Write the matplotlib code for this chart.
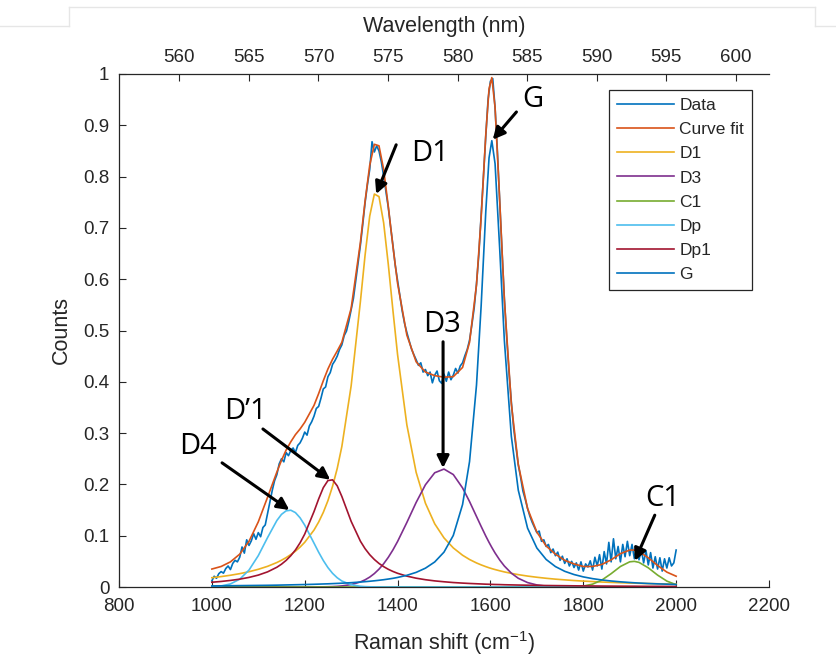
import numpy as np
import matplotlib
matplotlib.use('Agg')
import matplotlib.pyplot as plt
from matplotlib.lines import Line2D

plt.rcParams['font.family'] = ['Liberation Sans', 'DejaVu Sans']
plt.rcParams['mathtext.default'] = 'regular'

# measured spectrum, every 5 cm-1 from 1000 to 2000
data_x = np.arange(1000, 2001, 5)
data_y = [
    0.012, 0.021, 0.017, 0.026, 0.030, 0.027, 0.036, 0.041, 0.034, 0.046,
    0.052, 0.049, 0.058, 0.078, 0.066, 0.092, 0.081, 0.090, 0.104, 0.093,
    0.106, 0.098, 0.116, 0.121, 0.143, 0.165, 0.188, 0.207, 0.219, 0.240,
    0.250, 0.244, 0.262, 0.256, 0.266, 0.271, 0.262, 0.276, 0.281, 0.290,
    0.302, 0.296, 0.314, 0.322, 0.333, 0.348, 0.352, 0.368, 0.386, 0.390,
    0.410, 0.418, 0.434, 0.441, 0.450, 0.463, 0.472, 0.490, 0.499, 0.518,
    0.541, 0.563, 0.597, 0.632, 0.667, 0.707, 0.749, 0.784, 0.814, 0.868,
    0.848, 0.860, 0.850, 0.829, 0.801, 0.770, 0.740, 0.702, 0.666, 0.627,
    0.597, 0.567, 0.538, 0.514, 0.496, 0.480, 0.464, 0.453, 0.443, 0.432,
    0.437, 0.419, 0.424, 0.412, 0.419, 0.398, 0.413, 0.421, 0.402, 0.397,
    0.415, 0.401, 0.419, 0.404, 0.413, 0.426, 0.417, 0.431, 0.437, 0.451,
    0.463, 0.481, 0.511, 0.544, 0.591, 0.648, 0.723, 0.801, 0.879, 0.951,
    0.986, 0.991, 0.934, 0.849, 0.751, 0.654, 0.563, 0.487, 0.419, 0.361,
    0.310, 0.273, 0.238, 0.214, 0.187, 0.171, 0.153, 0.138, 0.126, 0.116,
    0.106, 0.109, 0.089, 0.092, 0.079, 0.083, 0.067, 0.074, 0.061, 0.068,
    0.052, 0.060, 0.046, 0.055, 0.041, 0.050, 0.038, 0.047, 0.033, 0.049,
    0.031, 0.045, 0.039, 0.051, 0.033, 0.058, 0.041, 0.063, 0.035, 0.069,
    0.045, 0.087, 0.049, 0.094, 0.055, 0.079, 0.049, 0.083, 0.059, 0.089,
    0.061, 0.083, 0.055, 0.077, 0.053, 0.073, 0.047, 0.071, 0.043, 0.067,
    0.037, 0.059, 0.035, 0.057, 0.031, 0.055, 0.037, 0.057, 0.041, 0.047,
    0.072,
]

# fitted curve and peak components, read at these shifts
fit_x = [1000, 1020, 1040, 1060, 1080, 1100, 1120, 1140, 1150, 1160,
         1170, 1180, 1190, 1200, 1220, 1230, 1240, 1250, 1260, 1270,
         1280, 1300, 1320, 1330, 1340, 1350, 1360, 1370, 1380, 1390,
         1400, 1420, 1440, 1460, 1480, 1500, 1520, 1540, 1555, 1570,
         1580, 1590, 1597, 1603, 1610, 1620, 1630, 1645, 1660, 1680,
         1700, 1720, 1740, 1760, 1780, 1800, 1820, 1840, 1860, 1880,
         1900, 1910, 1920, 1940, 1960, 1980, 2000]

curve_fit = [0.035, 0.040, 0.049, 0.064, 0.089, 0.127, 0.175, 0.224, 0.247, 0.267,
             0.283, 0.297, 0.308, 0.321, 0.354, 0.377, 0.402, 0.425, 0.444, 0.460,
             0.477, 0.543, 0.672, 0.752, 0.822, 0.863, 0.860, 0.814, 0.742, 0.664,
             0.592, 0.491, 0.439, 0.419, 0.412, 0.409, 0.410, 0.428, 0.477, 0.589,
             0.720, 0.882, 0.971, 0.993, 0.935, 0.753, 0.560, 0.357, 0.239, 0.153,
             0.107, 0.080, 0.064, 0.052, 0.045, 0.040, 0.040, 0.044, 0.053, 0.065,
             0.072, 0.072, 0.069, 0.057, 0.042, 0.029, 0.021]

d1 = [0.0181, 0.0203, 0.0229, 0.0260, 0.0298, 0.0345, 0.0403, 0.0477, 0.0522, 0.0573,
      0.0632, 0.0699, 0.0778, 0.0871, 0.1110, 0.1266, 0.1454, 0.1683, 0.1964, 0.2310,
      0.2740, 0.3920, 0.5570, 0.6468, 0.7230, 0.7660, 0.7610, 0.7099, 0.6290, 0.5391,
      0.4530, 0.3160, 0.2235, 0.1633, 0.1232, 0.0957, 0.0762, 0.0619, 0.0536, 0.0469,
      0.0431, 0.0397, 0.0375, 0.0358, 0.0340, 0.0316, 0.0294, 0.0266, 0.0241, 0.0213,
      0.0190, 0.0170, 0.0153, 0.0139, 0.0126, 0.0115, 0.0106, 0.0097, 0.0090, 0.0083,
      0.0077, 0.0075, 0.0072, 0.0067, 0.0063, 0.0059, 0.0055]

d3 = [0.0, 0.0, 0.0, 0.0, 0.0, 0.0, 0.0, 0.0, 0.0, 0.0,
      0.0, 0.0, 0.0, 0.0, 0.0, 0.0002, 0.0003, 0.0005, 0.0008, 0.0013,
      0.0021, 0.0047, 0.0099, 0.0140, 0.0193, 0.0262, 0.0348, 0.0453, 0.0578, 0.0723,
      0.0887, 0.1258, 0.1648, 0.1993, 0.2227, 0.2299, 0.2192, 0.1931, 0.1666, 0.1375,
      0.1181, 0.0993, 0.0870, 0.0771, 0.0663, 0.0526, 0.0409, 0.0270, 0.0170, 0.0086,
      0.0040, 0.0017, 0.0007, 0.0003, 0.0, 0.0, 0.0, 0.0, 0.0, 0.0,
      0.0, 0.0, 0.0, 0.0, 0.0, 0.0, 0.0]

c1 = [0.0, 0.0, 0.0, 0.0, 0.0, 0.0, 0.0, 0.0, 0.0, 0.0,
      0.0, 0.0, 0.0, 0.0, 0.0, 0.0, 0.0, 0.0, 0.0, 0.0,
      0.0, 0.0, 0.0, 0.0, 0.0, 0.0, 0.0, 0.0, 0.0, 0.0,
      0.0, 0.0, 0.0, 0.0, 0.0, 0.0, 0.0, 0.0, 0.0, 0.0,
      0.0, 0.0, 0.0, 0.0, 0.0, 0.0, 0.0, 0.0, 0.0, 0.0,
      0.0, 0.0, 0.0, 0.0001, 0.0005, 0.0018, 0.0056, 0.0135, 0.0260, 0.0400,
      0.0491, 0.0500, 0.0480, 0.0374, 0.0232, 0.0115, 0.0045]

dp = [0.0006, 0.0020, 0.0060, 0.0152, 0.0330, 0.0611, 0.0964, 0.1296, 0.1416, 0.1485,
      0.1497, 0.1450, 0.1349, 0.1206, 0.0855, 0.0678, 0.0517, 0.0378, 0.0266, 0.0180,
      0.0117, 0.0044, 0.0014, 0.0007, 0.0004, 0.0002, 0.0001, 0.0, 0.0, 0.0,
      0.0, 0.0, 0.0, 0.0, 0.0, 0.0, 0.0, 0.0, 0.0, 0.0,
      0.0, 0.0, 0.0, 0.0, 0.0, 0.0, 0.0, 0.0, 0.0, 0.0,
      0.0, 0.0, 0.0, 0.0, 0.0, 0.0, 0.0, 0.0, 0.0, 0.0,
      0.0, 0.0, 0.0, 0.0, 0.0, 0.0, 0.0]

dp1 = [0.0093, 0.0108, 0.0128, 0.0153, 0.0187, 0.0232, 0.0295, 0.0385, 0.0445, 0.0519,
       0.0610, 0.0722, 0.0861, 0.1031, 0.1470, 0.1716, 0.1936, 0.2075, 0.2089, 0.1972,
       0.1764, 0.1280, 0.0892, 0.0747, 0.0630, 0.0536, 0.0459, 0.0397, 0.0345, 0.0303,
       0.0267, 0.0212, 0.0172, 0.0142, 0.0119, 0.0102, 0.0087, 0.0076, 0.0069, 0.0063,
       0.0059, 0.0055, 0.0053, 0.0051, 0.0049, 0.0047, 0.0044, 0.0041, 0.0038, 0.0035,
       0.0032, 0.0029, 0.0027, 0.0025, 0.0023, 0.0021, 0.0020, 0.0018, 0.0017, 0.0016,
       0.0015, 0.0015, 0.0014, 0.0013, 0.0013, 0.0012, 0.0011]

g_band = [0.0021, 0.0023, 0.0025, 0.0027, 0.0029, 0.0031, 0.0033, 0.0036, 0.0038, 0.0040,
          0.0042, 0.0044, 0.0046, 0.0048, 0.0053, 0.0056, 0.0059, 0.0062, 0.0066, 0.0070,
          0.0074, 0.0084, 0.0097, 0.0104, 0.0112, 0.0121, 0.0131, 0.0142, 0.0155, 0.0169,
          0.0186, 0.0228, 0.0285, 0.0367, 0.0488, 0.0680, 0.1005, 0.1608, 0.2444, 0.3937,
          0.5480, 0.7320, 0.8365, 0.8700, 0.8251, 0.6586, 0.4807, 0.2939, 0.1887, 0.1147,
          0.0760, 0.0537, 0.0398, 0.0306, 0.0243, 0.0197, 0.0163, 0.0137, 0.0117, 0.0101,
          0.0088, 0.0082, 0.0077, 0.0068, 0.0061, 0.0055, 0.0049]

series_names = ['Data', 'Curve fit', 'D1', 'D3', 'C1', 'Dp', 'Dp1', 'G']
series_colors = ['#0072BD', '#D95319', '#EDB120', '#7E2F8E', '#77AC30',
                 '#4DBEEE', '#A2142F', '#0072BD']

y_ticks = [0, 0.1, 0.2, 0.3, 0.4, 0.5, 0.6, 0.7, 0.8, 0.9, 1]
y_labels = ['0', '0.1', '0.2', '0.3', '0.4', '0.5', '0.6', '0.7', '0.8', '0.9', '1']
x_ticks = [800, 1000, 1200, 1400, 1600, 1800, 2000, 2200]
wl_ticks = [560, 565, 570, 575, 580, 585, 590, 595, 600]
wl_limits = (555.66, 602.39)

# peak labels: (text, text position, arrow tail, arrow tip) in data units
peak_notes = [
    ('D1', (1470, 0.845), (1397, 0.862), (1354, 0.766)),
    ('G', (1692, 0.950), (1656, 0.926), (1605, 0.872)),
    ('D3', (1496, 0.512), (1498, 0.478), (1498, 0.232)),
    ('D\u20191', (1073, 0.343), (1110, 0.308), (1255, 0.209)),
    ('D4', (970, 0.273), (1022, 0.242), (1167, 0.150)),
    ('C1', (1972, 0.172), (1954, 0.140), (1911, 0.051)),
]

ink = '#262626'

fig = plt.figure(figsize=(8.37, 6.57), dpi=100)
ax = fig.add_axes([119 / 837, 1 - 587 / 657, 650 / 837, 513 / 657])

ax.plot(data_x, data_y, color=series_colors[0], lw=1.2, label=series_names[0])
comps = [curve_fit, d1, d3, c1, dp, dp1, g_band]
for vals, name, col in zip(comps, series_names[1:], series_colors[1:]):
    ax.plot(fit_x, vals, color=col, lw=1.2, label=name)

ax.set_xlim(800, 2200)
ax.set_ylim(0, 1)
ax.set_xticks(x_ticks)
ax.set_yticks(y_ticks)
ax.set_yticklabels(y_labels)
ax.tick_params(direction='in', length=5, width=0.8, colors=ink, labelsize=13.5)
ax.tick_params(axis='x', pad=8)
ax.tick_params(axis='y', pad=7)
for side in ['top', 'right']:
    ax.spines[side].set_visible(False)
for side in ['left', 'bottom']:
    ax.spines[side].set_color(ink)
    ax.spines[side].set_linewidth(0.9)

ax.set_xlabel('Raman shift (cm$^{-1}$)', fontsize=15.5, color=ink, labelpad=10)
ax.set_ylabel('Counts', fontsize=15.5, color=ink, labelpad=8)

# top axis in wavelength
ax2 = ax.twiny()
ax2.set_xlim(*wl_limits)
ax2.set_xticks(wl_ticks)
ax2.tick_params(direction='in', length=5, width=0.8, colors=ink, labelsize=13.5, pad=6)
for side in ['bottom', 'left', 'right']:
    ax2.spines[side].set_visible(False)
ax2.spines['top'].set_color(ink)
ax2.spines['top'].set_linewidth(0.9)
ax2.set_xlabel('Wavelength (nm)', fontsize=15.5, color=ink, labelpad=12)

leg = ax.legend(loc='upper left', bbox_to_anchor=(609 / 837, 1 - 90 / 657),
                bbox_transform=fig.transFigure, borderaxespad=0,
                fontsize=12.5, handlelength=3.3, handletextpad=0.3,
                labelspacing=0.52, borderpad=0.45, fancybox=False,
                framealpha=1, edgecolor=ink)
leg.get_frame().set_linewidth(0.9)
for t in leg.get_texts():
    t.set_color(ink)

for label, txt_pos, tail, tip in peak_notes:
    ax.text(txt_pos[0], txt_pos[1], label, fontsize=21, ha='center', va='center',
            family=['Open Sans', 'DejaVu Sans'], color='black')
    ax.annotate('', xy=tip, xytext=tail,
                arrowprops=dict(arrowstyle='-|>', color='black', lw=2.2,
                                mutation_scale=18, shrinkA=0, shrinkB=0))

# faint frame left over from the screenshot
frame_pts = [([0, 69], [26, 26]), ([69, 69], [26, 7]), ([69, 815], [7, 7]),
             ([815, 815], [7, 26]), ([815, 837], [26, 26])]
for xs, ys in frame_pts:
    fig.add_artist(Line2D([x / 837 for x in xs], [1 - y / 657 for y in ys],
                          transform=fig.transFigure, color='#e6e6e6', lw=1))

fig.savefig('out.png', dpi=100)
